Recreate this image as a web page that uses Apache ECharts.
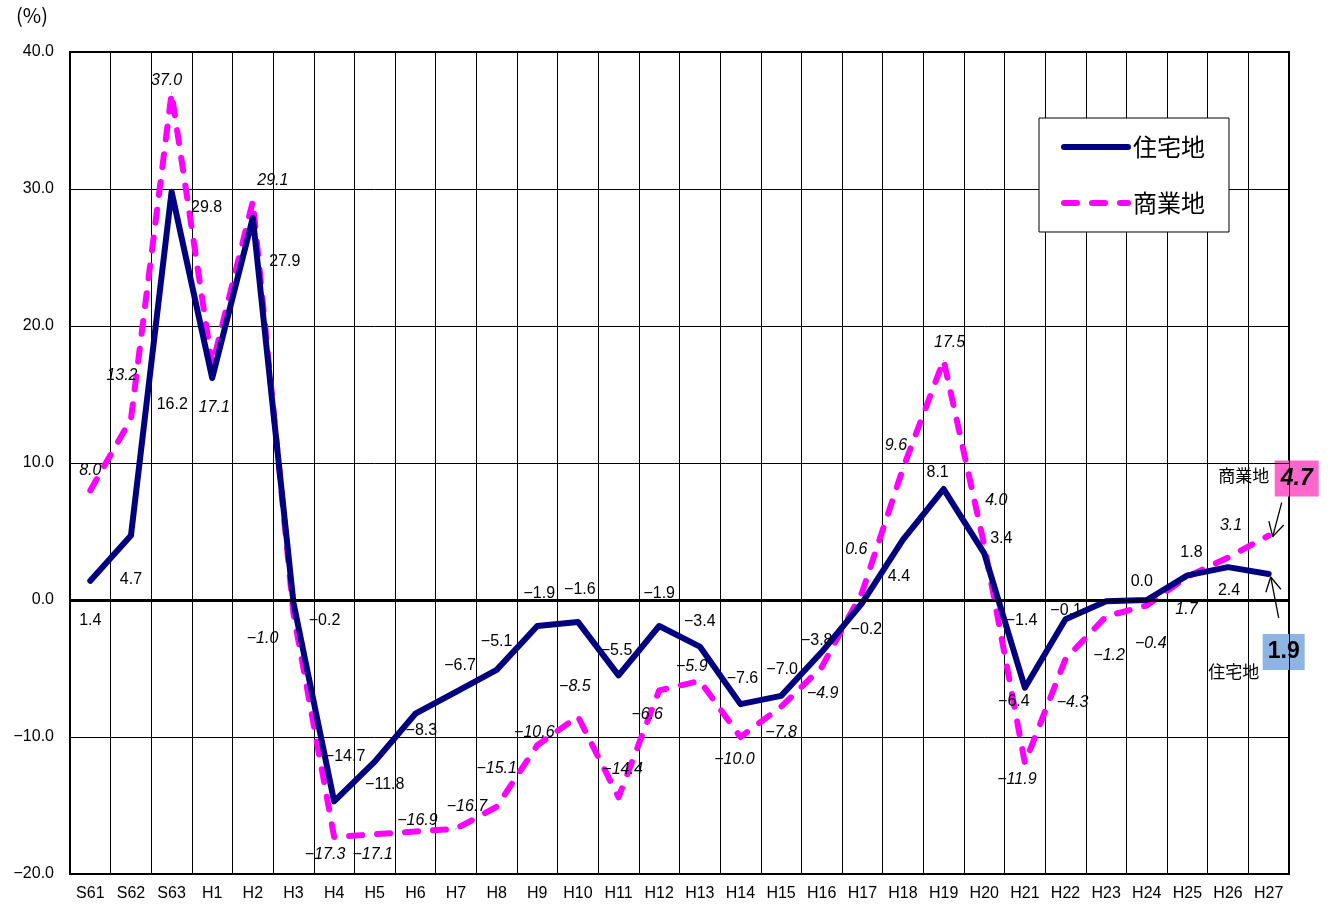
<!DOCTYPE html>
<html>
<head>
<meta charset="utf-8">
<title>地価変動率の推移</title>
<script src="https://cdn.jsdelivr.net/npm/echarts@6/dist/echarts.min.js"></script>
<style>
  html, body { margin: 0; padding: 0; background: #fff; }
  #chart { width: 1334px; height: 905px; }
</style>
</head>
<body>
<div id="chart"></div>
<script>
// 年次
const years = ['S61', 'S62', 'S63', 'H1', 'H2', 'H3', 'H4', 'H5', 'H6', 'H7', 'H8', 'H9', 'H10',
  'H11', 'H12', 'H13', 'H14', 'H15', 'H16', 'H17', 'H18', 'H19', 'H20', 'H21', 'H22', 'H23',
  'H24', 'H25', 'H26', 'H27'];

// 変動率 (%)
const residential = [1.4, 4.7, 29.8, 16.2, 27.9, -0.2, -14.7, -11.8, -8.3, -6.7, -5.1, -1.9, -1.6,
  -5.5, -1.9, -3.4, -7.6, -7.0, -3.8, -0.2, 4.4, 8.1, 3.4, -6.4, -1.4, -0.1, 0.0, 1.8, 2.4, 1.9];
const commercial = [8.0, 13.2, 37.0, 17.1, 29.1, -1.0, -17.3, -17.1, -16.9, -16.7, -15.1, -10.6, -8.5,
  -14.4, -6.6, -5.9, -10.0, -7.8, -4.9, 0.6, 9.6, 17.5, 4.0, -11.9, -4.3, -1.2, -0.4, 1.7, 3.1, 4.7];

// y軸目盛
const yTicks = [-20, -10, 0, 10, 20, 30, 40];

// ラベルの位置ずらし (px)
const resOffset = [[0, 40], [0, 44], [35, 16], [-40, 27], [32, 44], [31, 18], [11, -45], [10, 23],
  [6, 17], [4, -26], [0, -28], [2, -32], [2, -32], [-2, -25], [0, -32], [0, -25], [2, -26], [1, -26],
  [-5, -11], [4, 27], [-4, 37], [-6, -16], [17, -15], [-11, 14], [-44, 1], [-40, 9], [-5, -18],
  [4, -23], [1, 23], null];
const comOffset = [[0, -20], [-9, -44], [-5, -13], [2, 42], [20, -21], [-31, 25], [-9, 18], [-2, 20],
  [2, -11], [11, -22], [0, -38], [-3, -13], [-3, -30], [4, -28], [-12, 24], [-8, -14], [-6, 23],
  [0, 26], [1, 26], [-6, -42], [-7, -23], [6, -18], [12, -45], [-8, 17], [7, 44], [3, 39], [4, 38],
  [-1, 33], [3, -32], null];

const fmt = v => (v < 0 ? '\u2212' + Math.abs(v).toFixed(1) : v.toFixed(1));
const numFont = "'Liberation Sans', Arial, sans-serif";
const jpFont = "'Noto Sans CJK JP', sans-serif";

const resLine = { color: '#000080', width: 6, join: 'round', cap: 'round' };
const comLine = { color: '#FF00FF', width: 6, type: [13, 15], cap: 'round', join: 'round' };

const buildData = (values, offsets) => values.map((v, i) => ({
  value: v,
  label: offsets[i] ? { show: true, offset: offsets[i] } : { show: false }
}));

const chart = echarts.init(document.getElementById('chart'));

const option = {
  animation: false,
  backgroundColor: '#fff',
  grid: { left: 70, right: 45, top: 52, bottom: 31, show: true, borderColor: '#000', borderWidth: 2 },
  legend: {
    orient: 'vertical',
    left: 1039,
    top: 118,
    padding: [17, 24, 17, 22],
    itemGap: 32,
    itemWidth: 64,
    itemHeight: 14,
    backgroundColor: '#fff',
    borderColor: '#000',
    borderWidth: 1,
    borderRadius: 0,
    itemStyle: { opacity: 0 },
    textStyle: { fontFamily: jpFont, fontSize: 24, color: '#000' },
    data: [
      { name: '住宅地', lineStyle: resLine },
      { name: '商業地', lineStyle: comLine }
    ]
  },
  xAxis: {
    type: 'category',
    data: years,
    boundaryGap: true,
    axisLine: { show: false },
    axisTick: { show: false },
    axisLabel: { color: '#000', fontSize: 16, fontFamily: numFont, margin: 12, interval: 0 },
    splitLine: { show: true, interval: 0, lineStyle: { color: '#000', width: 1 } }
  },
  yAxis: {
    type: 'value',
    min: yTicks[0],
    max: yTicks[yTicks.length - 1],
    interval: 10,
    axisLine: { show: false },
    axisTick: { show: false },
    axisLabel: { color: '#000', fontSize: 16, fontFamily: numFont, margin: 16, formatter: fmt },
    splitLine: { lineStyle: { color: '#000', width: 1 } }
  },
  graphic: [{
    type: 'text', left: 16, top: 5,
    style: { text: '(%)', fontSize: 20, fontFamily: jpFont, fill: '#000' }
  }],
  series: [
    {
      name: '住宅地',
      type: 'line',
      data: buildData(residential, resOffset),
      symbol: 'circle',
      symbolSize: 1,
      z: 4,
      lineStyle: resLine,
      itemStyle: { color: '#000080' },
      label: { position: 'inside', color: '#000', fontSize: 16, fontFamily: numFont, formatter: p => fmt(p.value) },
      markLine: {
        silent: true,
        symbol: 'none',
        label: { show: false },
        lineStyle: { color: '#000', width: 3, type: 'solid' },
        data: [{ yAxis: 0 }]
      }
    },
    {
      name: '商業地',
      type: 'line',
      data: buildData(commercial, comOffset),
      symbol: 'circle',
      symbolSize: 1,
      z: 3,
      lineStyle: comLine,
      itemStyle: { color: '#FF00FF' },
      label: {
        position: 'inside', color: '#000', fontSize: 16, fontStyle: 'italic', fontFamily: numFont,
        formatter: p => fmt(p.value)
      }
    }
  ]
};

chart.setOption(option);

// 最終年の注記
const last = years.length - 1;
const pCom = chart.convertToPixel({ seriesIndex: 1 }, [last, commercial[last]]);
const pRes = chart.convertToPixel({ seriesIndex: 0 }, [last, residential[last]]);

const arrow = (x1, y1, x2, y2) => {
  const a = Math.atan2(y2 - y1, x2 - x1);
  const len = 16, spread = 0.5;
  const mk = (s) => ({
    type: 'line',
    shape: { x1: x2, y1: y2, x2: x2 - len * Math.cos(a + s), y2: y2 - len * Math.sin(a + s) },
    style: { stroke: '#000', lineWidth: 1.3 }
  });
  return [
    { type: 'line', shape: { x1, y1, x2, y2 }, style: { stroke: '#000', lineWidth: 1.3 } },
    mk(spread), mk(-spread)
  ];
};

chart.setOption({
  graphic: [
    option.graphic[0],
    { type: 'rect', shape: { x: pCom[0] + 6, y: pCom[1] - 75, width: 44, height: 36 }, style: { fill: '#FF66CC' } },
    {
      type: 'text', x: pCom[0] + 28, y: pCom[1] - 57,
      style: { text: fmt(commercial[last]), fontSize: 23, fontWeight: 'bold', fontStyle: 'italic',
        fontFamily: numFont, fill: '#000', align: 'center', verticalAlign: 'middle' }
    },
    {
      type: 'text', x: pCom[0] - 25, y: pCom[1] - 60,
      style: { text: '商業地', fontSize: 17, fontFamily: jpFont, fill: '#000', align: 'center', verticalAlign: 'middle' }
    },
    ...arrow(pCom[0] + 13, pCom[1] - 33, pCom[0] + 4, pCom[1] + 1),
    { type: 'rect', shape: { x: pRes[0] - 6, y: pRes[1] + 60, width: 42, height: 36 }, style: { fill: '#8DB4E2' } },
    {
      type: 'text', x: pRes[0] + 15, y: pRes[1] + 78,
      style: { text: fmt(residential[last]), fontSize: 23, fontWeight: 'bold',
        fontFamily: numFont, fill: '#000', align: 'center', verticalAlign: 'middle' }
    },
    {
      type: 'text', x: pRes[0] - 35, y: pRes[1] + 98,
      style: { text: '住宅地', fontSize: 17, fontFamily: jpFont, fill: '#000', align: 'center', verticalAlign: 'middle' }
    },
    ...arrow(pRes[0] + 10, pRes[1] + 44, pRes[0] + 2, pRes[1] + 3)
  ]
});
</script>
</body>
</html>
